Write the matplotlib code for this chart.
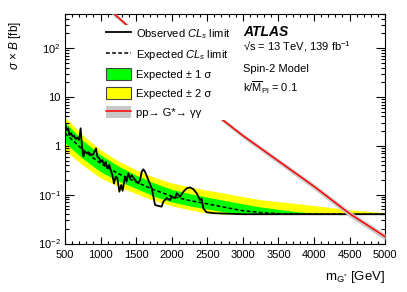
import matplotlib
matplotlib.use('Agg')
import matplotlib.pyplot as plt
from matplotlib.lines import Line2D
from matplotlib.patches import Patch
from matplotlib.ticker import FixedLocator, FixedFormatter, MultipleLocator, LogLocator, NullFormatter

# fonty w stylu ROOT / ATLAS
plt.rcParams['font.family'] = ['Liberation Sans', 'DejaVu Sans']
plt.rcParams['mathtext.fontset'] = 'custom'
plt.rcParams['mathtext.rm'] = 'Liberation Sans'
plt.rcParams['mathtext.it'] = 'Liberation Sans:italic'
plt.rcParams['mathtext.bf'] = 'Liberation Sans:bold'

# pasma oczekiwanego limitu [GeV], [fb]
mass_exp = [500, 750, 1000, 1250, 1500, 1750, 2000, 2250, 2500, 2750, 3000, 3250, 3500, 3750, 4000, 4500, 5000]
expected = [1.82, 0.83, 0.437, 0.269, 0.182, 0.126, 0.093, 0.076, 0.065, 0.055, 0.047, 0.043, 0.041, 0.040, 0.040, 0.040, 0.040]
exp_p1 = [3.02, 1.29, 0.65, 0.385, 0.25, 0.174, 0.129, 0.105, 0.089, 0.076, 0.065, 0.056, 0.050, 0.045, 0.042, 0.041, 0.040]
exp_m1 = [1.15, 0.55, 0.295, 0.19, 0.135, 0.093, 0.071, 0.059, 0.051, 0.044, 0.040, 0.040, 0.040, 0.040, 0.040, 0.040, 0.040]
exp_p2 = [3.89, 1.66, 0.83, 0.49, 0.324, 0.229, 0.174, 0.145, 0.123, 0.107, 0.091, 0.079, 0.072, 0.066, 0.060, 0.049, 0.043]
exp_m2 = [0.81, 0.40, 0.22, 0.148, 0.105, 0.076, 0.059, 0.049, 0.042, 0.040, 0.040, 0.040, 0.040, 0.040, 0.040, 0.040, 0.040]

# obserwowany limit
mass_obs = [500, 523, 547, 561, 584, 608, 627, 650, 673, 697, 720, 739, 758, 781, 805, 828, 875, 898,
            936, 955, 983, 1002, 1025, 1048, 1072, 1095, 1123, 1142, 1166, 1189, 1213, 1236, 1264, 1290,
            1310, 1344, 1365, 1390, 1414, 1437, 1485, 1530, 1555, 1578, 1601, 1625, 1672, 1719, 1766,
            1812, 1859, 1883, 1930, 1977, 2000, 2047, 2070, 2117, 2164, 2211, 2258, 2305, 2352, 2398,
            2420, 2445, 2490, 2600, 3000, 5000]
observed = [3.09, 2.09, 2.29, 1.66, 1.82, 1.55, 1.62, 1.38, 1.48, 1.32, 2.29, 0.955, 0.603, 0.759, 0.708,
            0.741, 0.646, 0.676, 0.891, 0.603, 0.55, 0.468, 0.513, 0.407, 0.468, 0.347, 0.407, 0.324,
            0.251, 0.170, 0.234, 0.219, 0.115, 0.158, 0.120, 0.234, 0.186, 0.275, 0.219, 0.251, 0.20,
            0.170, 0.20, 0.295, 0.331, 0.295, 0.20, 0.135, 0.0617, 0.0589, 0.0569, 0.0724, 0.0851,
            0.0776, 0.0912, 0.0851, 0.107, 0.0912, 0.115, 0.135, 0.141, 0.129, 0.107, 0.0776, 0.0832,
            0.0525, 0.0437, 0.0417, 0.0398, 0.0398]

# przewidywanie teoretyczne pp -> G* -> yy
mass_th = [1000, 1500, 2000, 2500, 3000, 3500, 4000, 4500, 5000]
theory = [891, 200, 35.5, 6.0, 1.62, 0.49, 0.148, 0.041, 0.0138]
theory_unc = [0.10, 0.10, 0.10, 0.10, 0.11, 0.12, 0.13, 0.14, 0.15]

# etykiety osi y
ytick_vals = [1e-2, 1e-1, 1, 10, 1e2]
ytick_labels = ['$10^{-2}$', '$10^{-1}$', '1', '10', '$10^{2}$']

fig = plt.figure(figsize=(4.07, 2.92), dpi=100)
ax = fig.add_axes([0.1597, 0.166, 0.7865, 0.786])

# pasma
ax.fill_between(mass_exp, exp_m2, exp_p2, color='#ffff00', lw=0, zorder=1)
ax.fill_between(mass_exp, exp_m1, exp_p1, color='#00ff00', lw=0, zorder=2)
ax.plot(mass_exp, expected, color='black', lw=1.1, ls=(0, (2.5, 1.5)), zorder=3)
ax.plot(mass_obs, observed, color='black', lw=1.3, zorder=4)

# teoria
th_lo = [t * (1 - u) for t, u in zip(theory, theory_unc)]
th_hi = [t * (1 + u) for t, u in zip(theory, theory_unc)]
ax.fill_between(mass_th, th_lo, th_hi, color='#c8c8c8', lw=0, zorder=5)
ax.plot(mass_th, theory, color='#ff0000', lw=1.1, zorder=6)

ax.set_xlim(500, 5000)
ax.set_ylim(1e-2, 500)
ax.set_yscale('log')

# osie w stylu ROOT
ax.xaxis.set_major_locator(MultipleLocator(500))
ax.xaxis.set_minor_locator(MultipleLocator(100))
ax.yaxis.set_major_locator(FixedLocator(ytick_vals))
ax.yaxis.set_major_formatter(FixedFormatter(ytick_labels))
ax.yaxis.set_minor_locator(LogLocator(base=10, subs=range(2, 10), numticks=20))
ax.yaxis.set_minor_formatter(NullFormatter())
ax.tick_params(which='both', direction='in', top=True, right=True, labelsize=8, width=0.8)
ax.tick_params(axis='x', which='major', length=5, pad=4.5)
ax.tick_params(axis='x', which='minor', length=2.5)
ax.tick_params(axis='y', which='major', length=6.5, pad=3)
ax.tick_params(axis='y', which='minor', length=3.2)
for s in ax.spines.values():
    s.set_linewidth(0.8)

ax.set_ylabel(r'$\sigma$ $\times$ $B$ [fb]', fontsize=8.5, loc='top')
ax.yaxis.set_label_coords(-0.132, 0.971)
ax.set_xlabel(r'm$_{\mathrm{G}^{*}}$ [GeV]', fontsize=9.5, loc='right')
ax.xaxis.set_label_coords(1.0, -0.112)

# legenda
handles = [
    Line2D([], [], color='black', lw=1.3),
    Line2D([], [], color='black', lw=1.1, ls=(0, (2.5, 1.5))),
    Patch(facecolor='#00ff00', edgecolor='#444444', lw=0.8),
    Patch(facecolor='#ffff00', edgecolor='#444444', lw=0.8),
    (Patch(facecolor='#c8c8c8', edgecolor='none'), Line2D([], [], color='#ff0000', lw=1.1)),
]
labels = [r'Observed $CL_s$ limit', r'Expected $CL_s$ limit', 'Expected ± 1 σ',
          'Expected ± 2 σ', 'pp→ G*→ γγ']
leg = ax.legend(handles, labels, loc='upper left', bbox_to_anchor=(0.122, 0.952), fontsize=8,
                handlelength=2.2, handleheight=1.3, labelspacing=0.6, handletextpad=0.5,
                borderpad=0.2, borderaxespad=0, frameon=True, fancybox=False)
leg.get_frame().set_facecolor('white')
leg.get_frame().set_edgecolor('none')
leg.get_frame().set_alpha(1)
leg.set_zorder(10)

# opis ATLAS
ax.text(0.556, 0.921, 'ATLAS', transform=ax.transAxes, fontsize=10, fontweight='bold', fontstyle='italic', va='center')
ax.text(0.556, 0.856, '√s = 13 TeV, 139 fb$^{-1}$', transform=ax.transAxes, fontsize=8, va='center')
ax.text(0.556, 0.761, 'Spin-2 Model', transform=ax.transAxes, fontsize=8, va='center')
ax.text(0.556, 0.678, r'k/$\overline{\mathrm{M}}_{\mathrm{Pl}}$ = 0.1', transform=ax.transAxes, fontsize=8, va='center')

fig.savefig('out.png', dpi=100)
plt.close(fig)
